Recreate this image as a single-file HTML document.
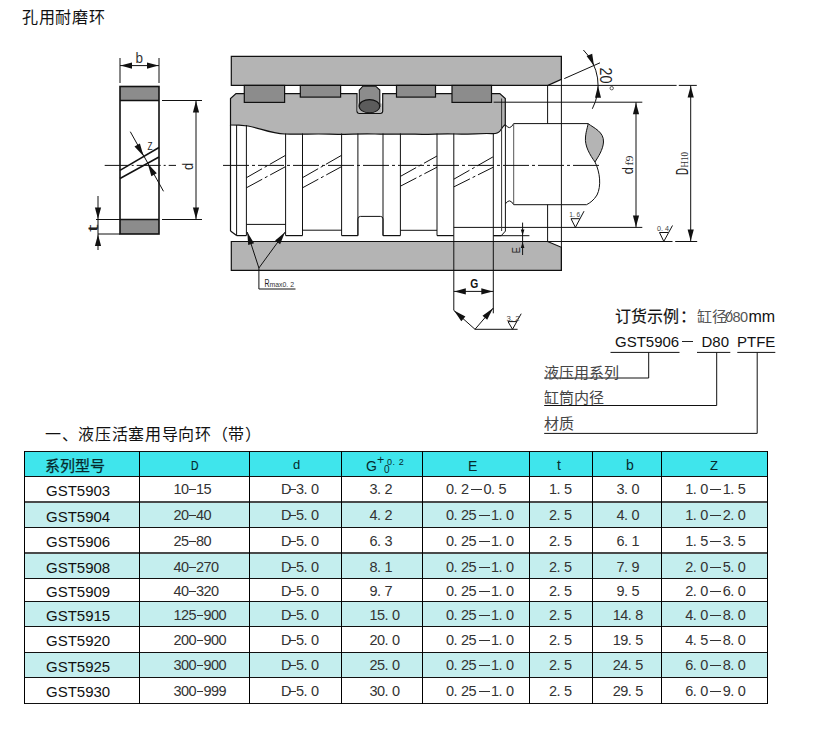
<!DOCTYPE html>
<html lang="zh-CN"><head><meta charset="utf-8">
<style>
html,body{margin:0;padding:0;background:#fff;width:822px;height:732px;overflow:hidden;position:relative}
body{font-family:"Liberation Sans",sans-serif;color:#111}
.a{position:absolute;white-space:nowrap;line-height:1}
.serif{font-family:"Liberation Serif",serif}
svg{position:absolute;left:0;top:0}
.n{font-size:14.5px;color:#333}
i.c{font-style:normal;display:inline-block;width:7.5px}
i.fw{font-style:normal;display:inline-block;width:15px;position:relative;height:10px}
b.hy{position:absolute;left:0.5px;top:5px;width:6.5px;height:1.2px;background:#333}
b.bar{position:absolute;left:2.5px;top:4.5px;width:11px;height:1.5px;background:#333}
.th{color:#062a2c}
.dash{display:inline-block;width:11px;height:1.4px;background:#222;vertical-align:4px;margin:0 1px}
.sup{display:inline-block;font-size:9px;line-height:8px;vertical-align:top;text-align:left}
</style></head><body>
<svg width="822" height="732" viewBox="0 0 822 732">
<rect x="120" y="86.5" width="39" height="14" fill="#8c8c8c"/>
<rect x="120" y="219.5" width="39" height="14.5" fill="#8c8c8c"/>
<rect x="120" y="86.5" width="39" height="147.5" fill="none" stroke="#111" stroke-width="1.6"/>
<line x1="120" y1="100.5" x2="159" y2="100.5" stroke="#111" stroke-width="1.6" />
<line x1="120" y1="219.5" x2="159" y2="219.5" stroke="#111" stroke-width="1.6" />
<line x1="120" y1="58" x2="120" y2="83" stroke="#111" stroke-width="1" />
<line x1="159" y1="58" x2="159" y2="83" stroke="#111" stroke-width="1" />
<line x1="120" y1="65.6" x2="159" y2="65.6" stroke="#111" stroke-width="1" />
<path d="M120.5,65.6 L132.0,62.5 L132.0,68.7 Z" fill="#111"/>
<path d="M158.5,65.6 L147.0,68.7 L147.0,62.5 Z" fill="#111"/>
<line x1="162" y1="100.5" x2="202" y2="100.5" stroke="#111" stroke-width="1" />
<line x1="162" y1="219.5" x2="202" y2="219.5" stroke="#111" stroke-width="1" />
<line x1="196" y1="100.5" x2="196" y2="219.5" stroke="#111" stroke-width="1" />
<path d="M196.0,101.0 L199.1,112.5 L192.9,112.5 Z" fill="#111"/>
<path d="M196.0,219.0 L192.9,207.5 L199.1,207.5 Z" fill="#111"/>
<line x1="104.7" y1="165.4" x2="176" y2="165.4" stroke="#111" stroke-width="1" stroke-dasharray="24,3,2,3"/>
<line x1="120" y1="170.4" x2="159" y2="147.5" stroke="#111" stroke-width="1.5" />
<line x1="120" y1="178.5" x2="159" y2="157" stroke="#111" stroke-width="1.5" />
<line x1="130.3" y1="131.7" x2="163.5" y2="191.3" stroke="#111" stroke-width="1" />
<path d="M143.6,156.3 L134.5,146.5 L139.9,143.5 Z" fill="#111"/>
<path d="M147.7,163.4 L156.8,173.2 L151.4,176.2 Z" fill="#111"/>
<line x1="96" y1="219.5" x2="120" y2="219.5" stroke="#111" stroke-width="1" />
<line x1="98" y1="234" x2="120" y2="234" stroke="#111" stroke-width="1" />
<line x1="98" y1="196" x2="98" y2="250" stroke="#111" stroke-width="1" />
<path d="M98.0,219.0 L94.9,207.5 L101.1,207.5 Z" fill="#111"/>
<path d="M98.0,234.5 L101.1,246.0 L94.9,246.0 Z" fill="#111"/>
<path d="M231.3,56.3 H561.4 V79.3 L548,85.4 H231.3 Z" fill="#b4b4b4" stroke="#111" stroke-width="1.2"/>
<path d="M231.3,241.5 H547.6 L561.4,247.3 V270.4 H231.3 Z" fill="#b4b4b4" stroke="#111" stroke-width="1.2"/>
<path d="M230.5,124.8 V98.5 L236,93.6 H357 V111 Q357,113.3 359.5,113.3 H380.2 Q382.7,113.3 382.7,111 V93.6 H499.8 L505.3,98.5 V124.5 C503,126 502,128 500,131 C498,133.5 496,133.8 492,133.6 C480,133 470,134.6 455,134 C440,133.4 430,134.8 415,134.2 C400,133.6 390,134.7 375,134 C360,133.4 345,134.8 330,134.2 C315,133.6 300,134.6 285,134 C270,133.4 260,128 248,126 C240,125 235,124.8 230.5,124.8 Z" fill="#b4b4b4" stroke="#111" stroke-width="1.2"/>
<line x1="501.6" y1="98.5" x2="501.6" y2="130" stroke="#333" stroke-width="1" />
<rect x="244.3" y="85.4" width="40.3" height="17.0" fill="#8c8c8c" stroke="#111" stroke-width="1.2"/>
<rect x="300.3" y="85.4" width="40.3" height="11.7" fill="#8c8c8c" stroke="#111" stroke-width="1.2"/>
<rect x="396.5" y="85.4" width="39.0" height="11.7" fill="#8c8c8c" stroke="#111" stroke-width="1.2"/>
<rect x="452" y="85.4" width="39.5" height="17.0" fill="#8c8c8c" stroke="#111" stroke-width="1.2"/>
<path d="M357.6,103.5 H381.7 V111 Q381.7,112.8 379.7,112.8 H359.6 Q357.6,112.8 357.6,111 Z" fill="#b4b4b4"/>
<path d="M362.8,86.2 H375.7 L379.8,90.1 V106.2 H359.3 V90.1 Z" fill="#8c8c8c" stroke="#111" stroke-width="1.1"/>
<ellipse cx="369.5" cy="106.2" rx="10.3" ry="6.6" fill="#5c5c5c" stroke="#111" stroke-width="1.1"/>
<line x1="236.6" y1="125" x2="236.6" y2="235.6" stroke="#111" stroke-width="1" />
<line x1="246.4" y1="125" x2="246.4" y2="235.6" stroke="#111" stroke-width="1" />
<line x1="285.6" y1="133.5" x2="285.6" y2="235.6" stroke="#111" stroke-width="1" />
<line x1="302.5" y1="133.5" x2="302.5" y2="235.6" stroke="#111" stroke-width="1" />
<line x1="341.6" y1="133.5" x2="341.6" y2="235.6" stroke="#111" stroke-width="1" />
<line x1="357.9" y1="133.5" x2="357.9" y2="235.6" stroke="#111" stroke-width="1" />
<line x1="383" y1="133.5" x2="383" y2="235.6" stroke="#111" stroke-width="1" />
<line x1="400.4" y1="133.5" x2="400.4" y2="235.6" stroke="#111" stroke-width="1" />
<line x1="437" y1="133.5" x2="437" y2="235.6" stroke="#111" stroke-width="1" />
<line x1="453.8" y1="133.5" x2="453.8" y2="235.6" stroke="#111" stroke-width="1" />
<line x1="493.3" y1="133.5" x2="493.3" y2="235.6" stroke="#111" stroke-width="1" />
<line x1="230.5" y1="124.8" x2="230.5" y2="231" stroke="#111" stroke-width="1.2" />
<line x1="230.5" y1="231" x2="236.6" y2="235.6" stroke="#111" stroke-width="1.2" />
<line x1="236.6" y1="235.6" x2="246.4" y2="235.6" stroke="#111" stroke-width="1.2" />
<line x1="285.6" y1="235.6" x2="302.5" y2="235.6" stroke="#111" stroke-width="1.2" />
<line x1="341.6" y1="235.6" x2="357.9" y2="235.6" stroke="#111" stroke-width="1.2" />
<line x1="383" y1="235.6" x2="400.4" y2="235.6" stroke="#111" stroke-width="1.2" />
<line x1="437" y1="235.6" x2="453.8" y2="235.6" stroke="#111" stroke-width="1.2" />
<line x1="493.3" y1="235.6" x2="501.3" y2="235.6" stroke="#111" stroke-width="1.2" />
<line x1="246.4" y1="224.4" x2="285.6" y2="224.4" stroke="#111" stroke-width="1" />
<line x1="302.5" y1="230.2" x2="341.6" y2="230.2" stroke="#111" stroke-width="1" />
<path d="M357.9,235.6 V219 Q357.9,216.4 360.5,216.4 H380.4 Q383,216.4 383,219 V235.6" fill="none" stroke="#111" stroke-width="1"/>
<line x1="400.4" y1="230.3" x2="437" y2="230.3" stroke="#111" stroke-width="1" />
<line x1="453.8" y1="227.4" x2="642.3" y2="227.4" stroke="#111" stroke-width="1" />
<line x1="501.6" y1="130" x2="501.6" y2="231" stroke="#333" stroke-width="1" />
<line x1="505.4" y1="124.5" x2="505.4" y2="231" stroke="#111" stroke-width="1" />
<line x1="505.5" y1="231" x2="501.3" y2="235.6" stroke="#111" stroke-width="1" />
<path d="M505.5,124.8 Q509.6,131 513.7,123.6 H588" fill="none" stroke="#111" stroke-width="1"/>
<path d="M505.5,203.8 Q509.6,197.5 513.7,204.7 H586.5" fill="none" stroke="#111" stroke-width="1"/>
<line x1="513.7" y1="123.6" x2="513.7" y2="204.7" stroke="#555" stroke-width="1" />
<path d="M588,123.6 C594,128 604,132 603.5,142 C603,150 598,157 595,162 C590,155 584.5,146 585.5,137 C586,131 588,126 588,123.6 Z" fill="#b4b4b4" stroke="#111" stroke-width="1"/>
<path d="M595,162 C600,172 601.5,186 597,195 C594,200 590,203 586.5,204.7" fill="none" stroke="#111" stroke-width="1"/>
<line x1="246.4" y1="177.7" x2="285.6" y2="155.3" stroke="#111" stroke-width="1" stroke-dasharray="18,3,3,3"/>
<line x1="246.4" y1="187.8" x2="285.6" y2="166.6" stroke="#111" stroke-width="1" stroke-dasharray="18,3,3,3"/>
<line x1="302.5" y1="177.7" x2="341.6" y2="155.3" stroke="#111" stroke-width="1" stroke-dasharray="18,3,3,3"/>
<line x1="302.5" y1="187.8" x2="341.6" y2="166.6" stroke="#111" stroke-width="1" stroke-dasharray="18,3,3,3"/>
<line x1="400.4" y1="176.4" x2="437" y2="156" stroke="#111" stroke-width="1" stroke-dasharray="18,3,3,3"/>
<line x1="400.4" y1="186.2" x2="437" y2="167.2" stroke="#111" stroke-width="1" stroke-dasharray="18,3,3,3"/>
<line x1="453.8" y1="179.2" x2="493.3" y2="156.7" stroke="#111" stroke-width="1" stroke-dasharray="18,3,3,3"/>
<line x1="453.8" y1="186.9" x2="493.3" y2="167.2" stroke="#111" stroke-width="1" stroke-dasharray="18,3,3,3"/>
<line x1="223" y1="165.4" x2="599" y2="165.4" stroke="#111" stroke-width="1" stroke-dasharray="26,3,3,3"/>
<line x1="547.6" y1="85.4" x2="547.6" y2="123.6" stroke="#111" stroke-width="1" />
<line x1="547.6" y1="204.7" x2="547.6" y2="241.5" stroke="#111" stroke-width="1" />
<line x1="561.4" y1="56.3" x2="561.4" y2="270.4" stroke="#111" stroke-width="1" />
<line x1="548" y1="85.4" x2="676.6" y2="85.4" stroke="#111" stroke-width="1" />
<line x1="678.8" y1="85.4" x2="696.8" y2="85.4" stroke="#111" stroke-width="1" />
<line x1="493.6" y1="102.2" x2="642.3" y2="102.2" stroke="#111" stroke-width="1" />
<line x1="493.3" y1="235.7" x2="529.4" y2="235.7" stroke="#111" stroke-width="1" />
<line x1="547.6" y1="241.5" x2="672.5" y2="241.5" stroke="#111" stroke-width="1" />
<line x1="675.2" y1="241.5" x2="697.2" y2="241.5" stroke="#111" stroke-width="1" />
<line x1="564.3" y1="78.6" x2="600" y2="62.8" stroke="#111" stroke-width="1" />
<path d="M583.4,50 A50,50 0 0 1 592.3,108.8" fill="none" stroke="#111" stroke-width="1"/>
<path d="M594.0,66.0 L586.6,56.1 L592.2,53.8 Z" fill="#111"/>
<path d="M598.0,85.8 L601.0,97.8 L595.0,97.8 Z" fill="#111"/>
<line x1="636" y1="102.2" x2="636" y2="227.4" stroke="#111" stroke-width="1" />
<path d="M636.0,102.7 L639.1,114.2 L632.9,114.2 Z" fill="#111"/>
<path d="M636.0,227.0 L632.9,215.5 L639.1,215.5 Z" fill="#111"/>
<line x1="690.7" y1="85.4" x2="690.7" y2="241.5" stroke="#111" stroke-width="1" />
<path d="M690.7,86.0 L693.8,97.5 L687.6,97.5 Z" fill="#111"/>
<path d="M690.7,241.0 L687.6,229.5 L693.8,229.5 Z" fill="#111"/>
<line x1="522.6" y1="222.6" x2="522.6" y2="255" stroke="#111" stroke-width="1" />
<path d="M522.6,235.5 L520.8,229.5 L524.4,229.5 Z" fill="#111"/>
<path d="M522.6,242.0 L524.4,248.0 L520.8,248.0 Z" fill="#111"/>
<line x1="453.8" y1="235.6" x2="453.8" y2="310.4" stroke="#111" stroke-width="1" />
<line x1="493.3" y1="235.6" x2="493.3" y2="313.3" stroke="#111" stroke-width="1" />
<line x1="453.8" y1="291.4" x2="493.3" y2="291.4" stroke="#111" stroke-width="1" />
<path d="M454.3,291.4 L465.8,288.3 L465.8,294.5 Z" fill="#111"/>
<path d="M492.8,291.4 L481.3,294.5 L481.3,288.3 Z" fill="#111"/>
<line x1="475" y1="329.3" x2="453.8" y2="310.4" stroke="#111" stroke-width="1" />
<line x1="475" y1="329.3" x2="493.3" y2="308" stroke="#111" stroke-width="1" />
<path d="M454.0,310.6 L465.4,316.5 L461.3,321.2 Z" fill="#111"/>
<path d="M493.0,308.3 L487.2,319.8 L482.5,315.8 Z" fill="#111"/>
<line x1="475" y1="329.3" x2="517.6" y2="329.3" stroke="#111" stroke-width="1" />
<path d="M508,321.6 L512.5,329.3 L521.2,313.7 M508,321.6 H516.8" fill="none" stroke="#111" stroke-width="1"/>
<path d="M571,218.7 L575.4,227.4 L584,211.2 M571,218.7 H579.7" fill="none" stroke="#111" stroke-width="1"/>
<path d="M659.5,232.5 L663.8,241.4 L672.5,225.5 M659.5,232.5 H668" fill="none" stroke="#111" stroke-width="1"/>
<line x1="258.9" y1="268" x2="247.2" y2="232" stroke="#111" stroke-width="1" />
<line x1="258.9" y1="268" x2="285.2" y2="232" stroke="#111" stroke-width="1" />
<path d="M247.3,232.3 L254.1,243.2 L248.2,245.1 Z" fill="#111"/>
<path d="M285.0,232.3 L280.1,244.2 L275.1,240.6 Z" fill="#111"/>
<line x1="258.9" y1="268" x2="258.9" y2="289" stroke="#111" stroke-width="1" />
<line x1="258.9" y1="289" x2="295.5" y2="289" stroke="#111" stroke-width="1" />
<text transform="translate(135.5 63) rotate(0)" font-size="15.5" text-anchor="start" font-family="'Liberation Sans',sans-serif" fill="#333" textLength="7.5" lengthAdjust="spacingAndGlyphs" >b</text>
<text transform="translate(147.6 149.8) rotate(0)" font-size="10" text-anchor="start" font-family="'Liberation Sans',sans-serif" fill="#222" textLength="5" lengthAdjust="spacingAndGlyphs" >Z</text>
<text transform="translate(193.2 170) rotate(-90)" font-size="15" text-anchor="start" font-family="'Liberation Sans',sans-serif" fill="#222" textLength="7.2" lengthAdjust="spacingAndGlyphs" >d</text>
<text transform="translate(97.6 232) rotate(-90)" font-size="15.5" text-anchor="start" font-family="'Liberation Sans',sans-serif" fill="#222" textLength="7.5" lengthAdjust="spacingAndGlyphs" >t</text>
<text transform="translate(470.3 287.8) rotate(0)" font-size="13.6" text-anchor="start" font-family="'Liberation Sans',sans-serif" fill="#111" textLength="8" lengthAdjust="spacingAndGlyphs" font-weight="bold">G</text>
<text transform="translate(600.4 67.6) rotate(90)" font-size="16.6" text-anchor="start" font-family="'Liberation Sans',sans-serif" fill="#222" textLength="16" lengthAdjust="spacingAndGlyphs" >20</text>
<circle cx="611.7" cy="88.2" r="1.7" fill="none" stroke="#333" stroke-width="0.8"/>
<text transform="translate(633.2 174.3) rotate(-90)" font-size="15.5" text-anchor="start" font-family="'Liberation Sans',sans-serif" fill="#222" textLength="7.2" lengthAdjust="spacingAndGlyphs" >d</text>
<text transform="translate(633.2 165.5) rotate(-90)" font-size="9.5" text-anchor="start" font-family="'Liberation Serif',serif" fill="#333" textLength="10" lengthAdjust="spacingAndGlyphs" >f9</text>
<text transform="translate(687.9 175) rotate(-90)" font-size="16.5" text-anchor="start" font-family="'Liberation Sans',sans-serif" fill="#222" textLength="7" lengthAdjust="spacingAndGlyphs" >D</text>
<text transform="translate(687.9 167.6) rotate(-90)" font-size="9.5" text-anchor="start" font-family="'Liberation Serif',serif" fill="#333" textLength="15.5" lengthAdjust="spacingAndGlyphs" >H10</text>
<text transform="translate(519.6 253.3) rotate(-90)" font-size="11" text-anchor="start" font-family="'Liberation Sans',sans-serif" fill="#222" textLength="6.2" lengthAdjust="spacingAndGlyphs" >E</text>
<text transform="translate(264.5 286.6) rotate(0)" font-size="11" text-anchor="start" font-family="'Liberation Sans',sans-serif" fill="#222" textLength="5" lengthAdjust="spacingAndGlyphs" >R</text>
<text transform="translate(269.5 286.6) rotate(0)" font-size="7.5" text-anchor="start" font-family="'Liberation Sans',sans-serif" fill="#333" textLength="24.5" lengthAdjust="spacingAndGlyphs" >max0. 2</text>
<text transform="translate(506.5 321) rotate(0)" font-size="7" text-anchor="start" font-family="'Liberation Sans',sans-serif" fill="#444" textLength="13" lengthAdjust="spacingAndGlyphs" >3. 2</text>
<text transform="translate(569.3 217.2) rotate(0)" font-size="7" text-anchor="start" font-family="'Liberation Sans',sans-serif" fill="#444" textLength="11" lengthAdjust="spacingAndGlyphs" >1. 6</text>
<text transform="translate(657 231) rotate(0)" font-size="7.5" text-anchor="start" font-family="'Liberation Sans',sans-serif" fill="#444" textLength="12" lengthAdjust="spacingAndGlyphs" >0. 4</text>
<line x1="610.5" y1="352.4" x2="679.5" y2="352.4" stroke="#111" stroke-width="1" />
<line x1="697" y1="352.4" x2="730.3" y2="352.4" stroke="#111" stroke-width="1" />
<line x1="737.3" y1="352.4" x2="775.3" y2="352.4" stroke="#111" stroke-width="1" />
<line x1="648.7" y1="352.4" x2="648.7" y2="378" stroke="#111" stroke-width="1" />
<line x1="544.2" y1="378" x2="648.7" y2="378" stroke="#111" stroke-width="1" />
<line x1="716.7" y1="352.4" x2="716.7" y2="405.5" stroke="#111" stroke-width="1" />
<line x1="544.2" y1="405.5" x2="716.7" y2="405.5" stroke="#111" stroke-width="1" />
<line x1="757.2" y1="352.4" x2="757.2" y2="433.4" stroke="#111" stroke-width="1" />
<line x1="544.2" y1="433.4" x2="757.2" y2="433.4" stroke="#111" stroke-width="1" />
<rect x="24" y="451" width="743" height="25" fill="#3fe5ec"/>
<rect x="24" y="503" width="743" height="24" fill="#c4eeee"/>
<rect x="24" y="554" width="743" height="24" fill="#c4eeee"/>
<rect x="24" y="602" width="743" height="24" fill="#c4eeee"/>
<rect x="24" y="653" width="743" height="24" fill="#c4eeee"/>
<rect x="24" y="451" width="744" height="1" fill="#111"/>
<rect x="24" y="476" width="744" height="1" fill="#111"/>
<rect x="24" y="501" width="744" height="2" fill="#4a4a4a"/>
<rect x="24" y="527" width="744" height="1" fill="#111"/>
<rect x="24" y="552" width="744" height="2" fill="#4a4a4a"/>
<rect x="24" y="578" width="744" height="1" fill="#111"/>
<rect x="24" y="601" width="744" height="1" fill="#111"/>
<rect x="24" y="626" width="744" height="1" fill="#111"/>
<rect x="24" y="652" width="744" height="1" fill="#111"/>
<rect x="24" y="677" width="744" height="1" fill="#111"/>
<rect x="24" y="703" width="744" height="1" fill="#111"/>
<rect x="24" y="451" width="1" height="253" fill="#000"/>
<rect x="139" y="451" width="1" height="253" fill="#000"/>
<rect x="249" y="451" width="1" height="253" fill="#000"/>
<rect x="341" y="451" width="1" height="253" fill="#000"/>
<rect x="422" y="451" width="1" height="253" fill="#000"/>
<rect x="529" y="451" width="1" height="253" fill="#000"/>
<rect x="592" y="451" width="1" height="253" fill="#000"/>
<rect x="661" y="451" width="1" height="253" fill="#000"/>
<rect x="767" y="451" width="1" height="253" fill="#000"/>
</svg>
<div class="a" style="left:22px;top:10px;font-size:16px;letter-spacing:0.7px">孔用耐磨环</div>
<div class="a" style="left:614.5px;top:309px;font-size:16px;-webkit-text-stroke:0.15px #111;letter-spacing:0.3px">订货示例：</div>
<div class="a serif" style="left:697px;top:309.5px;font-size:15px;color:#555">缸径</div>
<div class="a n" style="left:725px;top:309.5px;font-size:14.5px;color:#555"><i class="c">0</i><i class="c">8</i><i class="c">0</i></div>
<svg style="position:absolute;left:0;top:0" width="822" height="732"><line x1="724.5" y1="322.5" x2="731.5" y2="310" stroke="#555" stroke-width="1"/></svg>
<div class="a" style="left:748.5px;top:309px;font-size:16px;color:#111">mm</div>
<div class="a" style="left:615px;top:334px;font-size:15px">GST5906<span class="dash" style="width:11px;vertical-align:5px;margin-left:3px"></span></div>
<div class="a" style="left:701.5px;top:334px;font-size:15px">D80</div>
<div class="a" style="left:737px;top:334px;font-size:15px">PTFE</div>
<div class="a serif" style="left:544px;top:365.5px;font-size:15px;color:#444">液压用系列</div>
<div class="a serif" style="left:544px;top:391px;font-size:15px;color:#444">缸筒内径</div>
<div class="a serif" style="left:544px;top:417px;font-size:15px;color:#444">材质</div>
<div class="a" style="left:45px;top:427px;font-size:16px;letter-spacing:0.67px">一、液压活塞用导向环（带）</div>
<div class="a th" style="left:45px;top:458px;font-size:15px;-webkit-text-stroke:0.25px #062a2c">系列型号</div>
<div class="a th" style="left:190.5px;top:458.5px;font-size:13px;transform:scaleX(0.8);transform-origin:0 0;-webkit-text-stroke:0.2px #062a2c">D</div>
<div class="a th" style="left:293px;top:458px;font-size:13px">d</div>
<div class="a th" style="left:366px;top:459px;font-size:14px">G</div>
<div class="a th" style="left:377px;top:453.5px;font-size:12.5px">+</div>
<div class="a th" style="left:387px;top:457.5px;font-size:9px;letter-spacing:0.6px">0. 2</div>
<div class="a th" style="left:384px;top:465px;font-size:10px">0</div>
<div class="a th" style="left:468px;top:459px;font-size:14px">E</div>
<div class="a th" style="left:557px;top:458px;font-size:14px">t</div>
<div class="a th" style="left:626px;top:458px;font-size:14px">b</div>
<div class="a th" style="left:710px;top:459px;font-size:13px">Z</div>
<div class="a td" style="left:46px;top:482.7px;font-size:15px">GST5903</div>
<div class="a n" style="left:173.5px;top:482px"><i class="c">1</i><i class="c">0</i><i class="c" style="position:relative;height:10px"><b class="hy"></b></i><i class="c">1</i><i class="c">5</i></div>
<div class="a n" style="left:281.0px;top:482px"><i class="c">D</i><i class="c" style="position:relative;height:10px"><b class="hy"></b></i><i class="c">3</i><i class="c">.</i><i class="c">0</i></div>
<div class="a n" style="left:369.5px;top:482px"><i class="c">3</i><i class="c">.</i><i class="c">2</i></div>
<div class="a n" style="left:446.0px;top:482px"><i class="c">0</i><i class="c">.</i><i class="c">2</i><i class="fw"><b class="bar"></b></i><i class="c">0</i><i class="c">.</i><i class="c">5</i></div>
<div class="a n" style="left:549.0px;top:482px"><i class="c">1</i><i class="c">.</i><i class="c">5</i></div>
<div class="a n" style="left:616.5px;top:482px"><i class="c">3</i><i class="c">.</i><i class="c">0</i></div>
<div class="a n" style="left:685.3px;top:482px"><i class="c">1</i><i class="c">.</i><i class="c">0</i><i class="fw"><b class="bar"></b></i><i class="c">1</i><i class="c">.</i><i class="c">5</i></div>
<div class="a td" style="left:46px;top:508.7px;font-size:15px">GST5904</div>
<div class="a n" style="left:173.5px;top:508px"><i class="c">2</i><i class="c">0</i><i class="c" style="position:relative;height:10px"><b class="hy"></b></i><i class="c">4</i><i class="c">0</i></div>
<div class="a n" style="left:281.0px;top:508px"><i class="c">D</i><i class="c" style="position:relative;height:10px"><b class="hy"></b></i><i class="c">5</i><i class="c">.</i><i class="c">0</i></div>
<div class="a n" style="left:369.5px;top:508px"><i class="c">4</i><i class="c">.</i><i class="c">2</i></div>
<div class="a n" style="left:446.0px;top:508px"><i class="c">0</i><i class="c">.</i><i class="c">2</i><i class="c">5</i><i class="fw"><b class="bar"></b></i><i class="c">1</i><i class="c">.</i><i class="c">0</i></div>
<div class="a n" style="left:549.0px;top:508px"><i class="c">2</i><i class="c">.</i><i class="c">5</i></div>
<div class="a n" style="left:616.5px;top:508px"><i class="c">4</i><i class="c">.</i><i class="c">0</i></div>
<div class="a n" style="left:685.3px;top:508px"><i class="c">1</i><i class="c">.</i><i class="c">0</i><i class="fw"><b class="bar"></b></i><i class="c">2</i><i class="c">.</i><i class="c">0</i></div>
<div class="a td" style="left:46px;top:533.7px;font-size:15px">GST5906</div>
<div class="a n" style="left:173.5px;top:534px"><i class="c">2</i><i class="c">5</i><i class="c" style="position:relative;height:10px"><b class="hy"></b></i><i class="c">8</i><i class="c">0</i></div>
<div class="a n" style="left:281.0px;top:534px"><i class="c">D</i><i class="c" style="position:relative;height:10px"><b class="hy"></b></i><i class="c">5</i><i class="c">.</i><i class="c">0</i></div>
<div class="a n" style="left:369.5px;top:534px"><i class="c">6</i><i class="c">.</i><i class="c">3</i></div>
<div class="a n" style="left:446.0px;top:534px"><i class="c">0</i><i class="c">.</i><i class="c">2</i><i class="c">5</i><i class="fw"><b class="bar"></b></i><i class="c">1</i><i class="c">.</i><i class="c">0</i></div>
<div class="a n" style="left:549.0px;top:534px"><i class="c">2</i><i class="c">.</i><i class="c">5</i></div>
<div class="a n" style="left:616.5px;top:534px"><i class="c">6</i><i class="c">.</i><i class="c">1</i></div>
<div class="a n" style="left:685.3px;top:534px"><i class="c">1</i><i class="c">.</i><i class="c">5</i><i class="fw"><b class="bar"></b></i><i class="c">3</i><i class="c">.</i><i class="c">5</i></div>
<div class="a td" style="left:46px;top:559.7px;font-size:15px">GST5908</div>
<div class="a n" style="left:173.5px;top:560px"><i class="c">4</i><i class="c">0</i><i class="c" style="position:relative;height:10px"><b class="hy"></b></i><i class="c">2</i><i class="c">7</i><i class="c">0</i></div>
<div class="a n" style="left:281.0px;top:560px"><i class="c">D</i><i class="c" style="position:relative;height:10px"><b class="hy"></b></i><i class="c">5</i><i class="c">.</i><i class="c">0</i></div>
<div class="a n" style="left:369.5px;top:560px"><i class="c">8</i><i class="c">.</i><i class="c">1</i></div>
<div class="a n" style="left:446.0px;top:560px"><i class="c">0</i><i class="c">.</i><i class="c">2</i><i class="c">5</i><i class="fw"><b class="bar"></b></i><i class="c">1</i><i class="c">.</i><i class="c">0</i></div>
<div class="a n" style="left:549.0px;top:560px"><i class="c">2</i><i class="c">.</i><i class="c">5</i></div>
<div class="a n" style="left:616.5px;top:560px"><i class="c">7</i><i class="c">.</i><i class="c">9</i></div>
<div class="a n" style="left:685.3px;top:560px"><i class="c">2</i><i class="c">.</i><i class="c">0</i><i class="fw"><b class="bar"></b></i><i class="c">5</i><i class="c">.</i><i class="c">0</i></div>
<div class="a td" style="left:46px;top:583.7px;font-size:15px">GST5909</div>
<div class="a n" style="left:173.5px;top:584px"><i class="c">4</i><i class="c">0</i><i class="c" style="position:relative;height:10px"><b class="hy"></b></i><i class="c">3</i><i class="c">2</i><i class="c">0</i></div>
<div class="a n" style="left:281.0px;top:584px"><i class="c">D</i><i class="c" style="position:relative;height:10px"><b class="hy"></b></i><i class="c">5</i><i class="c">.</i><i class="c">0</i></div>
<div class="a n" style="left:369.5px;top:584px"><i class="c">9</i><i class="c">.</i><i class="c">7</i></div>
<div class="a n" style="left:446.0px;top:584px"><i class="c">0</i><i class="c">.</i><i class="c">2</i><i class="c">5</i><i class="fw"><b class="bar"></b></i><i class="c">1</i><i class="c">.</i><i class="c">0</i></div>
<div class="a n" style="left:549.0px;top:584px"><i class="c">2</i><i class="c">.</i><i class="c">5</i></div>
<div class="a n" style="left:616.5px;top:584px"><i class="c">9</i><i class="c">.</i><i class="c">5</i></div>
<div class="a n" style="left:685.3px;top:584px"><i class="c">2</i><i class="c">.</i><i class="c">0</i><i class="fw"><b class="bar"></b></i><i class="c">6</i><i class="c">.</i><i class="c">0</i></div>
<div class="a td" style="left:46px;top:607.7px;font-size:15px">GST5915</div>
<div class="a n" style="left:173.5px;top:608px"><i class="c">1</i><i class="c">2</i><i class="c">5</i><i class="c" style="position:relative;height:10px"><b class="hy"></b></i><i class="c">9</i><i class="c">0</i><i class="c">0</i></div>
<div class="a n" style="left:281.0px;top:608px"><i class="c">D</i><i class="c" style="position:relative;height:10px"><b class="hy"></b></i><i class="c">5</i><i class="c">.</i><i class="c">0</i></div>
<div class="a n" style="left:369.5px;top:608px"><i class="c">1</i><i class="c">5</i><i class="c">.</i><i class="c">0</i></div>
<div class="a n" style="left:446.0px;top:608px"><i class="c">0</i><i class="c">.</i><i class="c">2</i><i class="c">5</i><i class="fw"><b class="bar"></b></i><i class="c">1</i><i class="c">.</i><i class="c">0</i></div>
<div class="a n" style="left:549.0px;top:608px"><i class="c">2</i><i class="c">.</i><i class="c">5</i></div>
<div class="a n" style="left:612.8px;top:608px"><i class="c">1</i><i class="c">4</i><i class="c">.</i><i class="c">8</i></div>
<div class="a n" style="left:685.3px;top:608px"><i class="c">4</i><i class="c">.</i><i class="c">0</i><i class="fw"><b class="bar"></b></i><i class="c">8</i><i class="c">.</i><i class="c">0</i></div>
<div class="a td" style="left:46px;top:633.2px;font-size:15px">GST5920</div>
<div class="a n" style="left:173.5px;top:633px"><i class="c">2</i><i class="c">0</i><i class="c">0</i><i class="c" style="position:relative;height:10px"><b class="hy"></b></i><i class="c">9</i><i class="c">0</i><i class="c">0</i></div>
<div class="a n" style="left:281.0px;top:633px"><i class="c">D</i><i class="c" style="position:relative;height:10px"><b class="hy"></b></i><i class="c">5</i><i class="c">.</i><i class="c">0</i></div>
<div class="a n" style="left:369.5px;top:633px"><i class="c">2</i><i class="c">0</i><i class="c">.</i><i class="c">0</i></div>
<div class="a n" style="left:446.0px;top:633px"><i class="c">0</i><i class="c">.</i><i class="c">2</i><i class="c">5</i><i class="fw"><b class="bar"></b></i><i class="c">1</i><i class="c">.</i><i class="c">0</i></div>
<div class="a n" style="left:549.0px;top:633px"><i class="c">2</i><i class="c">.</i><i class="c">5</i></div>
<div class="a n" style="left:612.8px;top:633px"><i class="c">1</i><i class="c">9</i><i class="c">.</i><i class="c">5</i></div>
<div class="a n" style="left:685.3px;top:633px"><i class="c">4</i><i class="c">.</i><i class="c">5</i><i class="fw"><b class="bar"></b></i><i class="c">8</i><i class="c">.</i><i class="c">0</i></div>
<div class="a td" style="left:46px;top:658.7px;font-size:15px">GST5925</div>
<div class="a n" style="left:173.5px;top:658px"><i class="c">3</i><i class="c">0</i><i class="c">0</i><i class="c" style="position:relative;height:10px"><b class="hy"></b></i><i class="c">9</i><i class="c">0</i><i class="c">0</i></div>
<div class="a n" style="left:281.0px;top:658px"><i class="c">D</i><i class="c" style="position:relative;height:10px"><b class="hy"></b></i><i class="c">5</i><i class="c">.</i><i class="c">0</i></div>
<div class="a n" style="left:369.5px;top:658px"><i class="c">2</i><i class="c">5</i><i class="c">.</i><i class="c">0</i></div>
<div class="a n" style="left:446.0px;top:658px"><i class="c">0</i><i class="c">.</i><i class="c">2</i><i class="c">5</i><i class="fw"><b class="bar"></b></i><i class="c">1</i><i class="c">.</i><i class="c">0</i></div>
<div class="a n" style="left:549.0px;top:658px"><i class="c">2</i><i class="c">.</i><i class="c">5</i></div>
<div class="a n" style="left:612.8px;top:658px"><i class="c">2</i><i class="c">4</i><i class="c">.</i><i class="c">5</i></div>
<div class="a n" style="left:685.3px;top:658px"><i class="c">6</i><i class="c">.</i><i class="c">0</i><i class="fw"><b class="bar"></b></i><i class="c">8</i><i class="c">.</i><i class="c">0</i></div>
<div class="a td" style="left:46px;top:684.2px;font-size:15px">GST5930</div>
<div class="a n" style="left:173.5px;top:684px"><i class="c">3</i><i class="c">0</i><i class="c">0</i><i class="c" style="position:relative;height:10px"><b class="hy"></b></i><i class="c">9</i><i class="c">9</i><i class="c">9</i></div>
<div class="a n" style="left:281.0px;top:684px"><i class="c">D</i><i class="c" style="position:relative;height:10px"><b class="hy"></b></i><i class="c">5</i><i class="c">.</i><i class="c">0</i></div>
<div class="a n" style="left:369.5px;top:684px"><i class="c">3</i><i class="c">0</i><i class="c">.</i><i class="c">0</i></div>
<div class="a n" style="left:446.0px;top:684px"><i class="c">0</i><i class="c">.</i><i class="c">2</i><i class="c">5</i><i class="fw"><b class="bar"></b></i><i class="c">1</i><i class="c">.</i><i class="c">0</i></div>
<div class="a n" style="left:549.0px;top:684px"><i class="c">2</i><i class="c">.</i><i class="c">5</i></div>
<div class="a n" style="left:612.8px;top:684px"><i class="c">2</i><i class="c">9</i><i class="c">.</i><i class="c">5</i></div>
<div class="a n" style="left:685.3px;top:684px"><i class="c">6</i><i class="c">.</i><i class="c">0</i><i class="fw"><b class="bar"></b></i><i class="c">9</i><i class="c">.</i><i class="c">0</i></div>
</body></html>
